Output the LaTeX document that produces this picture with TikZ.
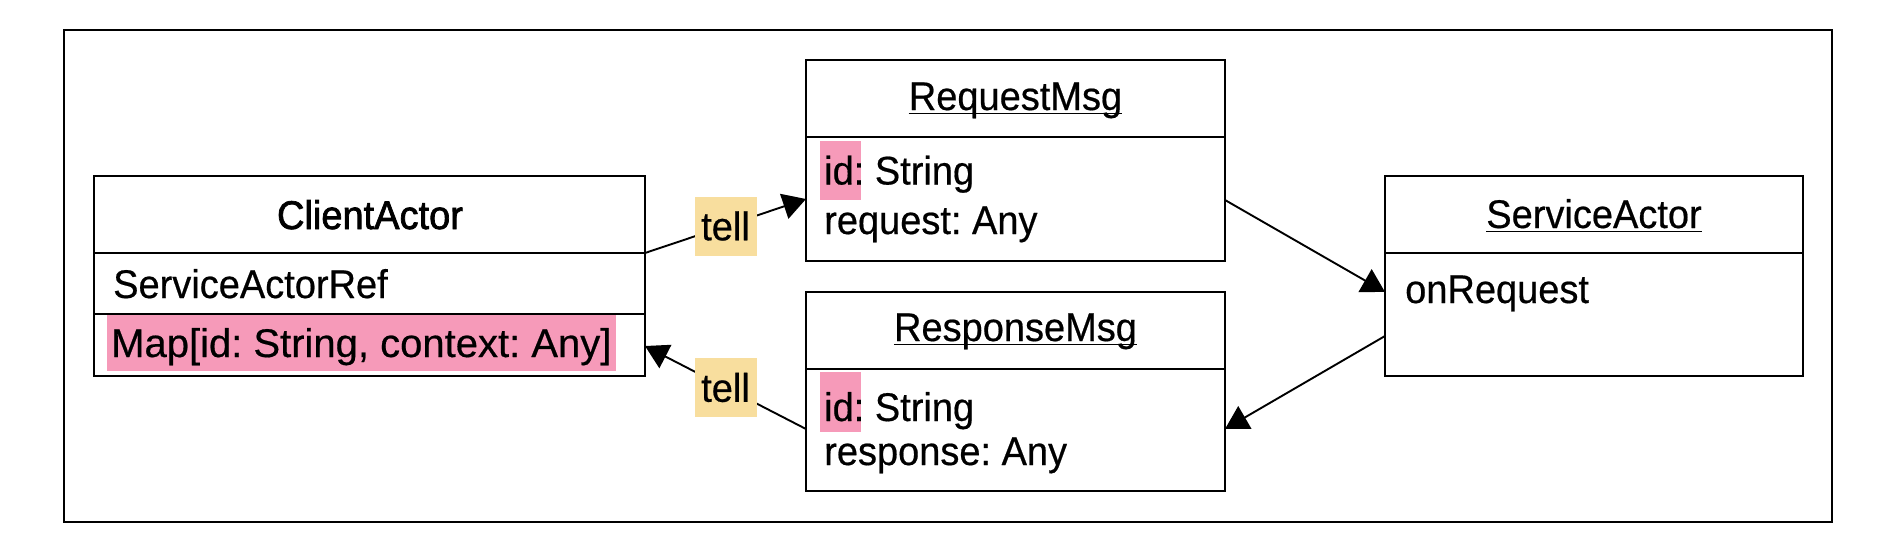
\documentclass[tikz,border=0pt]{standalone}
\usepackage{fontspec}
\setmainfont{Liberation Sans}[FakeStretch=0.95,FakeBold=0.5]
\newfontfamily\medfont{Liberation Sans}[FakeStretch=0.95,FakeBold=1.8]
\usetikzlibrary{arrows.meta}
\definecolor{hlpink}{RGB}{246,154,185}
\definecolor{tellbg}{RGB}{248,222,158}
\frenchspacing
\begin{document}
\begin{tikzpicture}[x=1pt,y=-1pt,
  font=\fontsize{40}{48}\selectfont,
  umlbox/.style={draw, line width=2.4pt, rectangle, inner sep=0pt, outer sep=0pt, anchor=north west},
  divider/.style={line width=2.4pt},
  txt/.style={inner sep=0pt, anchor=base west},
  ttl/.style={inner sep=0pt, anchor=base},
  uline/.style={line width=1.4pt},
  conn/.style={line width=1.9pt, -{Triangle[length=23pt,width=26pt]}},
  tellbox/.style={fill=tellbg, minimum width=62pt, minimum height=59pt, inner sep=0pt},
  frame/.style={line width=2.6pt}]
\useasboundingbox (0,0) rectangle (1902,554);
\draw[frame] (64,30) rectangle (1832,522);

% ClientActor
\fill[hlpink] (107,313) rectangle (616,371);
\node[umlbox, minimum width=551pt, minimum height=200pt] (ca) at (94,176) {};
\draw[divider] ([yshift=-77pt]ca.north west) -- ([yshift=-77pt]ca.north east);
\draw[divider] ([yshift=-138pt]ca.north west) -- ([yshift=-138pt]ca.north east);
\node[ttl, font=\medfont\fontsize{40}{48}\selectfont] (caT) at (370,229) {ClientActor};
\node[txt] (caA) at (113,298) {ServiceActorRef};
\node[txt, font=\fontsize{40}{48}\selectfont\addfontfeature{FakeStretch=1.0}] (caB) at (111,357) {Map[id: String, context: Any]};

% RequestMsg
\fill[hlpink] (820,141) rectangle (861,200);
\node[umlbox, minimum width=419pt, minimum height=201pt] (rq) at (806,60) {};
\draw[divider] ([yshift=-77pt]rq.north west) -- ([yshift=-77pt]rq.north east);
\node[ttl] (rqT) at (1015.5,110) {RequestMsg};
\draw[uline] ([yshift=-3.5pt]rqT.base west) -- ([yshift=-3.5pt]rqT.base east);
\node[txt] (rqA) at (824,184.5) {id: String};
\node[txt] (rqB) at (824,234) {request: Any};

% ResponseMsg
\fill[hlpink] (820,372) rectangle (861,432);
\node[umlbox, minimum width=419pt, minimum height=199pt] (rs) at (806,292) {};
\draw[divider] ([yshift=-77pt]rs.north west) -- ([yshift=-77pt]rs.north east);
\node[ttl] (rsT) at (1015.5,341) {ResponseMsg};
\draw[uline] ([yshift=-3.5pt]rsT.base west) -- ([yshift=-3.5pt]rsT.base east);
\node[txt] (rsA) at (824,421) {id: String};
\node[txt] (rsB) at (824,465) {response: Any};

% ServiceActor
\node[umlbox, minimum width=418pt, minimum height=200pt] (sa) at (1385,176) {};
\draw[divider] ([yshift=-77pt]sa.north west) -- ([yshift=-77pt]sa.north east);
\node[ttl] (saT) at (1594,228) {ServiceActor};
\draw[uline] ([yshift=-3.5pt]saT.base west) -- ([yshift=-3.5pt]saT.base east);
\node[txt] (saA) at (1405,303) {onRequest};

% connectors
\draw[conn] ([yshift=-77pt]ca.north east) -- node[tellbox] (t1) {tell} ([yshift=-139pt]rq.north west);
\draw[conn] ([yshift=-140pt]rq.north east) -- ([yshift=-116pt]sa.north west);
\draw[conn] ([yshift=-160pt]sa.north west) -- ([yshift=-137pt]rs.north east);
\draw[conn] ([yshift=-137pt]rs.north west) -- node[tellbox] (t2) {tell} ([yshift=-170pt]ca.north east);
\end{tikzpicture}
\end{document}
